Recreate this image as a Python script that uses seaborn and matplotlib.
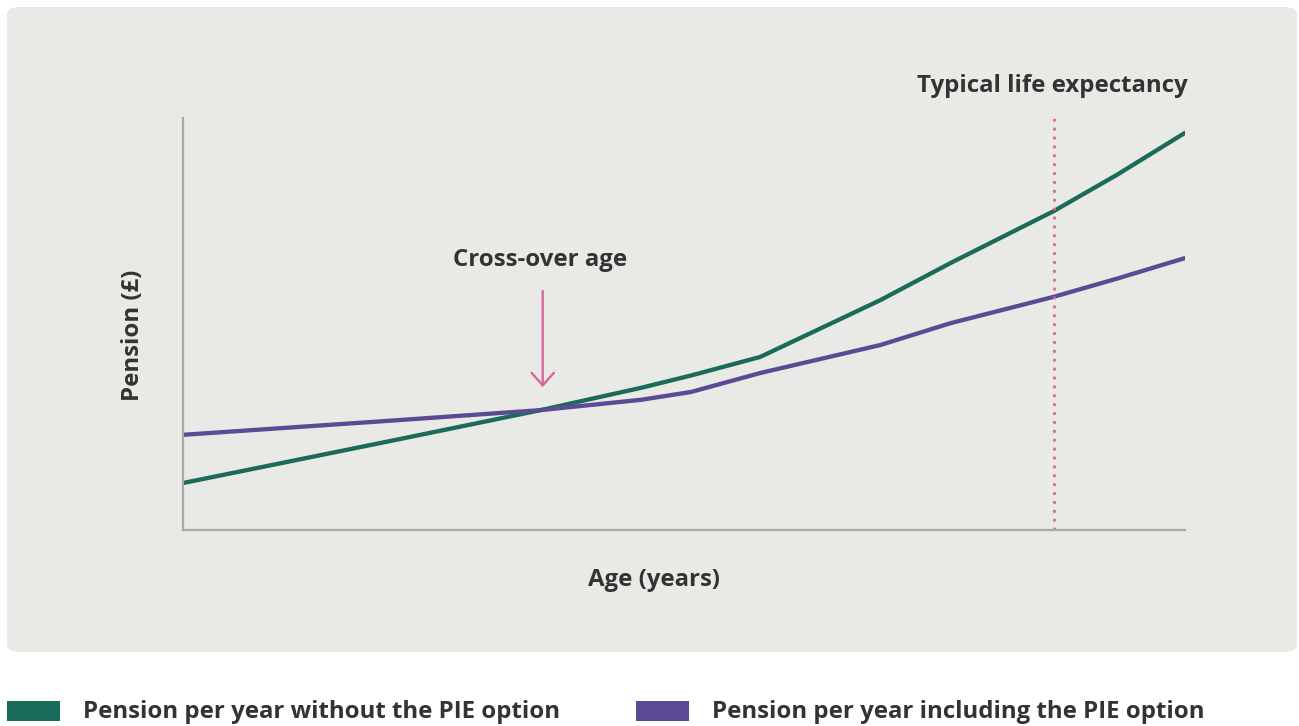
import numpy as np
import pandas as pd
import matplotlib
matplotlib.use("Agg")
import matplotlib.pyplot as plt
from matplotlib.patches import FancyBboxPatch, Rectangle
import seaborn as sns

# data (arbitrary units, axes have no ticks)
age = [0, 21.7, 35.7, 45.7, 50.7, 57.6, 69.6, 76.6, 86.9, 93.2, 100]
pension_without_pie = [11.4, 22.1, 29.1, 34.5, 37.5, 42.0, 55.8, 64.8, 77.4, 86.2, 96.4]
pension_with_pie = [23.1, 26.7, 29.1, 31.6, 33.5, 38.1, 44.9, 50.2, 56.6, 61.0, 66.0]
series_names = ["Pension per year without the PIE option",
                "Pension per year including the PIE option"]
life_expectancy_age = 86.9
crossover_age = 35.9

green = "#1B6B5B"
purple = "#5B4B94"
pink = "#D9679A"
panel = "#E9E9E5"
text_col = "#333333"
fs = 17.3

df = pd.DataFrame({
    "age": age * 2,
    "pension": pension_without_pie + pension_with_pie,
    "series": [series_names[0]] * len(age) + [series_names[1]] * len(age),
})

sns.set_style("white")
plt.rcParams["font.family"] = ["Open Sans", "DejaVu Sans"]

fig = plt.figure(figsize=(12.99, 7.26), dpi=100)
fig.patch.set_facecolor("white")

# rounded grey panel behind the chart
fig.patches.append(FancyBboxPatch((7 / 1299, 1 - 652 / 726), (1297 - 7) / 1299, (652 - 7) / 726,
                                  boxstyle="round,pad=0,rounding_size=0.01",
                                  transform=fig.transFigure, facecolor=panel,
                                  edgecolor="none", zorder=-10))

ax = fig.add_axes([183 / 1299, 1 - 530 / 726, (1185 - 183) / 1299, (530 - 118) / 726])
ax.set_facecolor("none")

sns.lineplot(data=df, x="age", y="pension", hue="series",
             palette=[green, purple], linewidth=3.1, ax=ax, legend=False,
             solid_capstyle="round", solid_joinstyle="round")

ax.set_xlim(0, 100)
ax.set_ylim(0, 100)
ax.set_xticks([])
ax.set_yticks([])
for s in ["top", "right"]:
    ax.spines[s].set_visible(False)
for s in ["left", "bottom"]:
    ax.spines[s].set_color("#A9A9A9")
    ax.spines[s].set_linewidth(1.6)

ax.set_xlabel("Age (years)", fontsize=fs, fontweight="bold", color=text_col)
ax.set_ylabel("Pension (£)", fontsize=fs, fontweight="bold", color=text_col)
ax.xaxis.set_label_coords(0.47, -0.121)
ax.yaxis.set_label_coords(-0.05, 0.473)
ax.xaxis.label.set_va("center")
ax.yaxis.label.set_va("center")

# life expectancy marker
ax.axvline(life_expectancy_age, color=pink, linestyle=(0, (1, 2.2)), linewidth=2.0)
ax.text(100.3, 107.8, "Typical life expectancy", ha="right", va="center",
        fontsize=fs, fontweight="bold", color=text_col, clip_on=False)

# cross-over arrow
ax.annotate("", xy=(crossover_age, 34.0), xytext=(crossover_age, 58.7),
            arrowprops=dict(arrowstyle="->,head_length=0.9,head_width=0.8",
                            color=pink, lw=1.7))
ax.text(crossover_age - 0.3, 65.5, "Cross-over age", ha="center", va="center",
        fontsize=fs, fontweight="bold", color=text_col)

# legend below the panel
colors = [green, purple]
box_x = [7, 636]
for name, c, bx in zip(series_names, colors, box_x):
    fig.patches.append(Rectangle((bx / 1299, 1 - 721 / 726), 53 / 1299, 20 / 726,
                                 transform=fig.transFigure, facecolor=c, edgecolor="none"))
    fig.text((bx + 76) / 1299, 1 - 712 / 726, name, ha="left", va="center",
             fontsize=fs, fontweight="bold", color=text_col)

fig.savefig("out.png", dpi=100)
